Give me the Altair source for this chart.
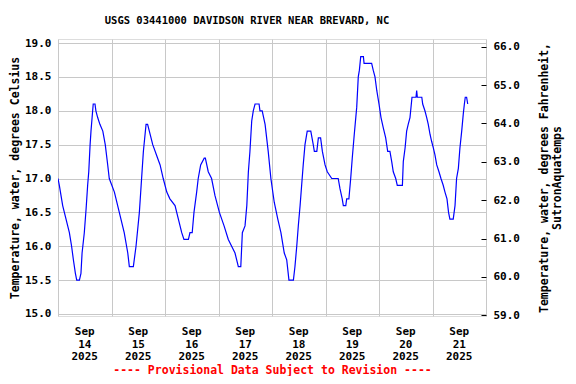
import altair as alt
import pandas as pd

# Hours since 2025-09-14 00:00 and water temperature (deg C)
hours = [0.0, 0.6, 2.1, 3.6, 5.1, 6.1, 6.9, 7.8, 8.4, 9.6, 10.3, 10.8, 11.8, 12.6, 13.3, 13.8,
         14.4, 14.8, 15.3, 15.8, 16.6, 17.0, 17.8, 18.8, 20.1, 21.2, 22.3, 23.0, 25.3, 27.5,
         29.7, 31.3, 32.0, 33.8, 35.0, 36.5, 37.5, 38.3, 39.5, 40.2, 42.5, 44.7, 45.8, 47.2,
         48.8, 50.2, 52.5, 54.0, 55.5, 56.5, 58.5, 59.2, 60.2, 61.0, 62.2, 62.9, 64.0, 65.6,
         66.1, 67.4, 68.9, 70.4, 72.4, 74.5, 76.4, 77.9, 79.4, 80.9, 82.0, 82.7, 83.9, 84.7,
         85.4, 86.1, 86.9, 87.6, 88.4, 90.2, 90.6, 91.6, 92.9, 94.3, 95.5, 97.0, 98.6, 100.0,
         101.5, 102.6, 103.6, 105.6, 106.3, 107.1, 107.8, 108.6, 109.3, 110.0, 110.8, 111.8,
         113.4, 114.5, 115.0, 116.1, 116.8, 117.8, 118.6, 119.8, 120.8, 122.8, 125.7, 126.5,
         127.5, 128.0, 129.1, 129.5, 130.5, 131.3, 132.0, 132.9, 134.0, 134.7, 135.2, 135.8,
         137.0, 137.3, 140.7, 141.4, 142.2, 143.0, 144.0, 144.9, 145.9, 147.0, 147.9, 148.9,
         149.7, 150.4, 151.5, 152.2, 154.5, 154.9, 155.7, 156.4, 157.1, 157.9, 158.8, 160.6,
         160.9, 161.2, 163.2, 163.6, 164.6, 165.4, 166.1, 166.9, 167.6, 168.4, 169.1, 169.9,
         170.9, 171.8, 172.8, 173.6, 174.5, 175.2, 175.8, 177.3, 178.1, 178.8, 179.6, 180.3,
         181.1, 181.8, 182.3, 182.7, 183.3, 183.8]
temps_c = [17.0, 16.9, 16.6, 16.4, 16.2, 16.0, 15.8, 15.6, 15.5, 15.5, 15.6, 15.9, 16.2, 16.55, 16.9, 17.1,
           17.5, 17.7, 17.9, 18.1, 18.1, 18.0, 17.9, 17.8, 17.7, 17.5, 17.2, 17.0, 16.8, 16.5,
           16.2, 15.9, 15.7, 15.7, 16.0, 16.5, 17.0, 17.4, 17.8, 17.8, 17.5, 17.3, 17.2, 17.0,
           16.8, 16.7, 16.6, 16.4, 16.2, 16.1, 16.1, 16.2, 16.2, 16.5, 16.8, 17.0, 17.2, 17.3,
           17.3, 17.1, 17.0, 16.75, 16.5, 16.3, 16.1, 16.0, 15.9, 15.7, 15.7, 16.2, 16.3, 16.6,
           17.1, 17.4, 17.85, 18.0, 18.1, 18.1, 18.0, 18.0, 17.8, 17.4, 17.0, 16.65, 16.4, 16.2,
           15.9, 15.8, 15.5, 15.5, 15.7, 16.0, 16.3, 16.6, 16.9, 17.2, 17.5, 17.7,
           17.7, 17.5, 17.4, 17.4, 17.6, 17.6, 17.4, 17.2, 17.1, 17.0, 17.0, 16.85,
           16.7, 16.6, 16.6, 16.7, 16.7, 17.0, 17.3, 17.65, 18.05, 18.5, 18.6, 18.8,
           18.8, 18.7, 18.7, 18.6, 18.5, 18.3, 18.1, 17.9, 17.75, 17.6, 17.4, 17.4,
           17.25, 17.1, 17.0, 16.9, 16.9, 17.25, 17.45, 17.7, 17.8, 17.9, 18.2, 18.2,
           18.3, 18.2, 18.2, 18.1, 18.0, 17.9, 17.8, 17.65, 17.55, 17.45, 17.35, 17.2,
           17.1, 17.0, 16.9, 16.8, 16.7, 16.5, 16.4, 16.4, 16.6, 17.0, 17.15, 17.45,
           17.7, 17.95, 18.1, 18.2, 18.2, 18.1]

celsius_ticks = [15.0, 15.5, 16.0, 16.5, 17.0, 17.5, 18.0, 18.5, 19.0]
fahrenheit_ticks = [59.0, 60.0, 61.0, 62.0, 63.0, 64.0, 65.0, 66.0]
label_days = [14, 15, 16, 17, 18, 19, 20, 21]

start = pd.Timestamp("2025-09-14 00:00")
df = pd.DataFrame({"time": start + pd.to_timedelta(hours, unit="h"), "temp": temps_c})

labels_df = pd.DataFrame({
    "time": [pd.Timestamp(2025, 9, d, 12) for d in label_days],
    "label": [f"Sep\n{d}\n2025" for d in label_days],
})

FONT = "DejaVu Sans Mono"
GRID = "#c8c8c8"

grid_values = [alt.DateTime(year=2025, month=9, date=d, hours=0) for d in range(14, 23)]

x_scale = alt.Scale(domain=[alt.DateTime(year=2025, month=9, date=14, hours=0),
                            alt.DateTime(year=2025, month=9, date=22, hours=0)])

x_enc = alt.X(
    "time:T",
    scale=x_scale,
    axis=alt.Axis(
        values=grid_values,
        labels=False,
        grid=True, gridColor=GRID, gridWidth=1,
        ticks=False, domain=False,
        title="---- Provisional Data Subject to Revision ----",
        titleColor="red", titleFont=FONT, titleFontSize=11.5, titleFontWeight="bold",
        titlePadding=48,
    ),
)

line_c = alt.Chart(df).mark_line(color="#0000ff", strokeWidth=1.2, clip=True).encode(
    x=x_enc,
    y=alt.Y("temp:Q",
            scale=alt.Scale(domain=[14.97, 19.06], nice=False, zero=False),
            axis=alt.Axis(values=celsius_ticks, format=".1f", grid=True, gridColor=GRID,
                          ticks=False, domain=False, labelFont=FONT, labelFontSize=11,
                          labelFontWeight="bold", labelColor="black", labelPadding=7,
                          title="Temperature, water, degrees Celsius",
                          titleFont=FONT, titleFontSize=11.5, titleFontWeight="bold",
                          titleColor="black", titlePadding=4)),
)

date_labels = alt.Chart(labels_df).mark_text(
    font=FONT, fontSize=11, fontWeight="bold", color="black",
    baseline="top", align="center", lineBreak="\n", lineHeight=12.7,
).encode(
    x=alt.X("time:T"),
    y=alt.value(287),
    text="label:N",
)

line_f = alt.Chart(df).transform_calculate(tf="datum.temp * 1.8 + 32").mark_line(opacity=0).encode(
    x=alt.X("time:T"),
    y=alt.Y("tf:Q",
            scale=alt.Scale(domain=[58.98, 66.2], nice=False, zero=False),
            axis=alt.Axis(orient="right", values=fahrenheit_ticks, format=".1f", grid=False,
                          ticks=True, tickSize=5, tickColor="black", offset=-5, domain=False,
                          labelFont=FONT, labelFontSize=11, labelFontWeight="bold",
                          labelColor="black", labelPadding=7,
                          title=["Temperature, water, degrees Fahrenheit,", "SutronAquatemps"],
                          titleAngle=270, titleFont=FONT, titleFontSize=11.5,
                          titleFontWeight="bold", titleColor="black", titlePadding=17,
                          titleLineHeight=13)),
)

chart = alt.layer(line_c, date_labels, line_f).resolve_scale(y="independent").properties(
    width=428,
    height=277,
    padding={"left": 50, "top": 31, "right": 82, "bottom": 60},
    autosize=alt.AutoSizeParams(type="none"),
    title=alt.Title("USGS 03441000 DAVIDSON RIVER NEAR BREVARD, NC", font=FONT, fontSize=10.5,
                    fontWeight="bold", color="black", anchor="middle", frame="group",
                    dx=-25, offset=11),
).configure_view(stroke="black", strokeWidth=1).configure(background="white")

chart.save("out.html", embed_options={"renderer": "svg", "actions": False})
